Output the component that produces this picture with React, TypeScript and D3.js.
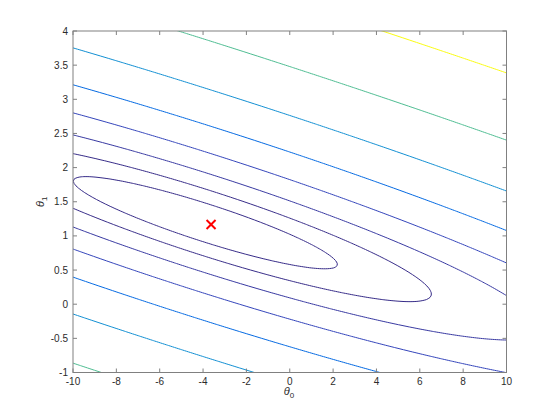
import React from "react";
import * as d3 from "d3";

// Linear-regression dataset moments (means over m = 97 samples): E[x], E[y], E[x^2], E[xy], E[y^2]
const sampleMoments = [8.1598, 5.8391, 81.43, 65.357, 64.145];
// Contour levels (logspace(-2,3,20) members that fall inside the plotted range)
const contourLevels = [7.848, 14.38, 26.37, 48.33, 88.59, 162.4, 297.6, 545.6];
const levelColors = ["#352a87", "#352a87", "#3637a0", "#3243ba", "#0268e1", "#108ed2", "#4dbc91", "#f9fb0e"];
const theta0Domain = [-10, 10];
const theta1Domain = [-1, 4];
const xTicks = [-10, -8, -6, -4, -2, 0, 2, 4, 6, 8, 10];
const yTicks = [-1, -0.5, 0, 0.5, 1, 1.5, 2, 2.5, 3, 3.5, 4];
const thetaMin = [-3.6303, 1.1664];

const W = 560, H = 420;
const L = 73, R = 506.5, T = 31, B = 372.5;

function cost(a: number, b: number) {
  const [ex, ey, ex2, exy, ey2] = sampleMoments;
  return 0.5 * (a * a + 2 * a * b * ex + b * b * ex2 - 2 * a * ey - 2 * b * exy + ey2);
}

export default function App() {
  const x = d3.scaleLinear().domain(theta0Domain).range([L, R]);
  const y = d3.scaleLinear().domain(theta1Domain).range([B, T]);

  // grid slightly larger than the visible domain so boundary edges are clipped away
  const g0 = [-11, 11], g1 = [-1.5, 4.5];
  const nx = 241, ny = 181;
  const gi = d3.scaleLinear().domain([0, nx - 1]).range(g0);
  const gj = d3.scaleLinear().domain([0, ny - 1]).range(g1);
  const values = new Array(nx * ny);
  for (let j = 0; j < ny; j++) for (let i = 0; i < nx; i++) values[j * nx + i] = cost(gi(i), gj(j));
  const contours = d3.contours().size([nx, ny]).smooth(true).thresholds(contourLevels)(values);
  const px = (gx: number) => x(gi(gx - 0.5));
  const py = (gy: number) => y(gj(gy - 0.5));
  const proj = d3.geoTransform({
    point(this: any, a: number, b: number) {
      this.stream.point(px(a), py(b));
    },
  });
  const path = d3.geoPath(proj);

  const axisColor = "#808080";
  const textColor = "#2b2b2b";
  const font = "'Liberation Sans', Arial, Helvetica, sans-serif";
  const mx = x(thetaMin[0]), my = y(thetaMin[1]), ms = 4.5;

  return (
    <svg width={W} height={H} style={{ position: "absolute", left: 0, top: 0, background: "#fff" }} fontFamily={font}>
      <defs>
        <clipPath id="plotClip">
          <rect x={L} y={T} width={R - L} height={B - T} />
        </clipPath>
      </defs>
      <rect x={0} y={0} width={W} height={H} fill="#fff" />
      <g clipPath="url(#plotClip)">
        {contours.map((c, k) => (
          <path key={k} d={path(c as any) || ""} fill="none" stroke={levelColors[k]} strokeWidth={1} />
        ))}
      </g>
      {/* box */}
      <rect x={L} y={T} width={R - L} height={B - T} fill="none" stroke={axisColor} strokeWidth={1} />
      {xTicks.map((t) => (
        <g key={"x" + t}>
          <line x1={x(t)} x2={x(t)} y1={B} y2={B - 4} stroke={axisColor} />
          <line x1={x(t)} x2={x(t)} y1={T} y2={T + 4} stroke={axisColor} />
          <text x={x(t)} y={385} fontSize={10} fill={textColor} textAnchor="middle">{t}</text>
        </g>
      ))}
      {yTicks.map((t) => (
        <g key={"y" + t}>
          <line x1={L} x2={L + 4} y1={y(t)} y2={y(t)} stroke={axisColor} />
          <line x1={R} x2={R - 4} y1={y(t)} y2={y(t)} stroke={axisColor} />
          <text x={68} y={y(t)} dy="0.35em" fontSize={10} fill={textColor} textAnchor="end">{t}</text>
        </g>
      ))}
      <text x={289} y={395} fontSize={11} fill={textColor} textAnchor="middle">
        <tspan fontStyle="italic">θ</tspan>
        <tspan fontSize={8} dy={3}>0</tspan>
      </text>
      <text transform={`translate(44, ${(T + B) / 2}) rotate(-90)`} fontSize={11} fill={textColor} textAnchor="middle">
        <tspan fontStyle="italic">θ</tspan>
        <tspan fontSize={8} dy={3}>1</tspan>
      </text>
      <g stroke="#ff0000" strokeWidth={2}>
        <line x1={mx - ms} y1={my - ms} x2={mx + ms} y2={my + ms} />
        <line x1={mx - ms} y1={my + ms} x2={mx + ms} y2={my - ms} />
      </g>
    </svg>
  );
}
